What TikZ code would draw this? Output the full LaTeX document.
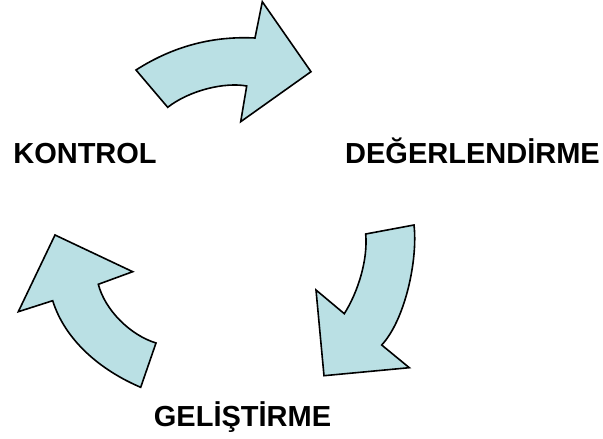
\documentclass[tikz,border=0pt]{standalone}
\usepackage{fontspec}
\setmainfont{Liberation Sans}
\usepackage{tikz}

\definecolor{arrowblue}{RGB}{186,224,228}
\tikzset{
  bigarrow/.style={fill=arrowblue, draw=black, line width=1.6pt, line join=miter},
  phase/.style={font=\fontsize{29}{33}\selectfont\bfseries, anchor=base, inner sep=0pt}
}

\begin{document}
\begin{tikzpicture}[x=1pt, y=-1pt]
\useasboundingbox (0,0) rectangle (603,439);
% top arrow
\filldraw[bigarrow] (167.7,107.3) -- (136,70) .. controls (175,45) and (215,36) .. (255,38) -- (262.3,1.7) -- (311,71.7) -- (240.7,121.7) -- (246.7,86) .. controls (225,82) and (190,90) .. cycle;
% right arrow
\filldraw[bigarrow] (365.7,234) -- (414,225) .. controls (418,260) and (405,320) .. (381.7,345) -- (409.3,367.7) -- (324,375.7) -- (316,290) -- (344.3,313.7) .. controls (358,292) and (368,260) .. cycle;
% left arrow
\filldraw[bigarrow] (156,343) -- (140.7,387.3) .. controls (100,370) and (65,340) .. (52.7,300.7) -- (18.3,311.7) -- (55,235) -- (132.7,271.7) -- (98.3,284.3) .. controls (105,310) and (130,335) .. cycle;
% labels
\node[phase] (kontrol) at (85,163.3) {KONTROL};
\node[phase] (degerlendirme) at (472.5,163.3) {DEĞERLENDİRME};
\node[phase] (gelistirme) at (242.5,426.7) {GELİŞTİRME};
\end{tikzpicture}
\end{document}
